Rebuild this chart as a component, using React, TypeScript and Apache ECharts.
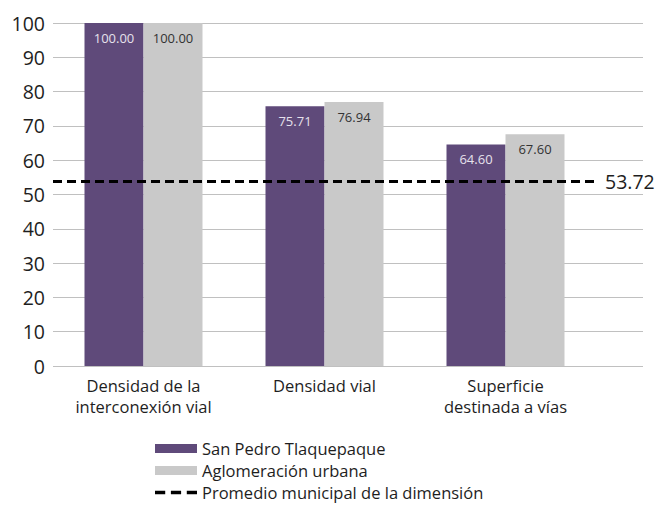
import React, { useEffect, useRef } from "react";
import * as echarts from "echarts";

const categories = ["Densidad de la\ninterconexión vial", "Densidad vial", "Superficie\ndestinada a vías"];
const tlaquepaque = [100.0, 75.71, 64.6];
const aglomeracion = [100.0, 76.94, 67.6];
const promedio = 53.72;
const seriesNames = ["San Pedro Tlaquepaque", "Aglomeración urbana", "Promedio municipal de la dimensión"];

const FONT = "'Open Sans', 'Noto Sans', sans-serif";

export default function App() {
  const ref = useRef<HTMLDivElement>(null);
  useEffect(() => {
    const chart = echarts.init(ref.current!, null, { renderer: "svg" });
    chart.setOption({
      animation: false,
      textStyle: { fontFamily: FONT },
      grid: [
        { left: 53, right: 17, top: 23, bottom: 145 },
        { left: 53, right: 64, top: 23, bottom: 145 },
      ],
      xAxis: [
        { gridIndex: 0, type: "value", min: 0, max: 1, show: false },
        {
          gridIndex: 1,
          type: "category",
          data: categories,
          axisLine: { show: false },
          axisTick: { show: false },
          axisLabel: { color: "#1e1e1e", fontSize: 16.5, lineHeight: 21, margin: 9, fontFamily: FONT },
        },
      ],
      yAxis: [
        {
          gridIndex: 0,
          type: "value",
          min: 0,
          max: 100,
          interval: 10,
          axisLine: { show: false },
          axisTick: { show: false },
          axisLabel: { color: "#1e1e1e", fontSize: 19.5, margin: 8, fontFamily: FONT },
          splitLine: { lineStyle: { color: "#c0c0c0", width: 1 } },
        },
        { gridIndex: 1, type: "value", min: 0, max: 100, interval: 10, show: false },
      ],
      legend: {
        orient: "vertical",
        left: 150,
        top: 435,
        height: 74,
        itemWidth: 42,
        itemHeight: 9,
        itemGap: 5,
        textStyle: { color: "#1e1e1e", fontSize: 16.5, fontFamily: FONT },
        data: [
          { name: seriesNames[0], icon: "rect" },
          { name: seriesNames[1], icon: "rect" },
          {
            name: seriesNames[2],
            icon: "path://M0,0h9v3h-9z M14,0h9v3h-9z M28,0h9v3h-9z",
            itemStyle: { color: "#000" },
          },
        ],
      },
      series: [
        {
          name: seriesNames[0],
          type: "bar",
          xAxisIndex: 1,
          yAxisIndex: 1,
          data: tlaquepaque,
          barWidth: 59,
          barGap: "0%",
          itemStyle: { color: "#5f4a7a" },
          label: {
            show: true,
            position: "insideTop",
            distance: 8,
            color: "#e6e1ec",
            fontSize: 13,
            fontFamily: FONT,
            formatter: (p: any) => p.value.toFixed(2),
          },
        },
        {
          name: seriesNames[1],
          type: "bar",
          xAxisIndex: 1,
          yAxisIndex: 1,
          data: aglomeracion,
          barWidth: 59,
          barGap: "0%",
          itemStyle: { color: "#c9c9c9" },
          label: {
            show: true,
            position: "insideTop",
            distance: 8,
            color: "#333",
            fontSize: 13,
            fontFamily: FONT,
            formatter: (p: any) => p.value.toFixed(2),
          },
        },
        {
          name: seriesNames[2],
          type: "line",
          xAxisIndex: 1,
          yAxisIndex: 1,
          data: [],
          symbol: "none",
          itemStyle: { color: "#000" },
          lineStyle: { color: "#000", type: [9, 5], width: 3 },
          markLine: {
            silent: true,
            symbol: "none",
            data: [{ yAxis: promedio }],
            lineStyle: { color: "#000", type: [9, 5], width: 3 },
            label: {
              show: true,
              position: "end",
              distance: 9,
              color: "#1e1e1e",
              fontSize: 19.5,
              fontFamily: FONT,
              formatter: promedio.toFixed(2),
            },
          },
        },
      ],
    });
    return () => chart.dispose();
  }, []);
  return <div ref={ref} style={{ width: 660, height: 511, position: "absolute", left: 0, top: 0 }} />;
}
